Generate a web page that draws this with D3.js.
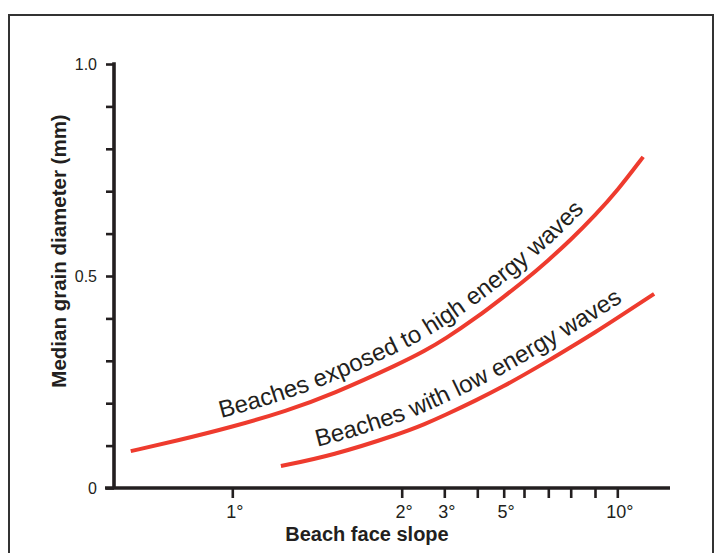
<!DOCTYPE html>
<html>
<head>
<meta charset="utf-8">
<script src="https://cdnjs.cloudflare.com/ajax/libs/d3/7.8.5/d3.min.js"></script>
<style>
body { margin: 0; background: #fff; }
svg { display: block; }
text { font-family: "Liberation Sans", Arial, Helvetica, sans-serif; fill: #231f20; }
</style>
</head>
<body>
<div id="grafica"></div>
<script>
// datos
var slopeTicks = [1, 2, 3, 4, 5, 6, 7, 8, 9, 10];
var slopeLabels = ["1°", "2°", "3°", "", "5°", "", "", "", "", "10°"];
var grainTicks = [0, 0.1, 0.2, 0.3, 0.4, 0.5, 0.6, 0.7, 0.8, 0.9, 1.0];
var grainLabels = ["0", "", "", "", "", "0.5", "", "", "", "", "1.0"];

var highSlope = [0.66, 0.8, 1, 1.25, 1.5, 2, 2.5, 3, 4, 5, 6, 7, 8, 9, 10, 11.3];
var highGrain = [0.087, 0.112, 0.144, 0.182, 0.220, 0.295, 0.324, 0.350, 0.403, 0.451, 0.488, 0.537, 0.585, 0.643, 0.701, 0.781];
var lowSlope = [1.22, 1.5, 2, 2.5, 3, 4, 5, 6, 7, 8, 9, 10, 11.9];
var lowGrain = [0.052, 0.076, 0.129, 0.151, 0.171, 0.208, 0.240, 0.267, 0.300, 0.332, 0.367, 0.401, 0.458];

var curveNames = ["Beaches exposed to high energy waves", "Beaches with low energy waves"];

var rojo = "#ee3b2e";
var tinta = "#231f20";

var svg = d3.select("#grafica")
  .append("svg")
  .attr("width", 720)
  .attr("height", 553);

// marco
svg.append("rect")
  .attr("x", 9).attr("y", 15)
  .attr("width", 704).attr("height", 580)
  .attr("fill", "none")
  .attr("stroke", "#333")
  .attr("stroke-width", 2);

// eje x dibujado a mano en el original: escala log por tramos
var x = d3.scaleLog()
  .domain(slopeTicks)
  .range([232.3, 401.7, 444.3, 477.3, 503.7, 524, 548.3, 570.7, 595, 617.3]);
var y = d3.scaleLinear().domain([0, 1]).range([488, 64]);

var x0 = 114;

// eje y
var yAxis = d3.axisLeft(y)
  .tickValues(grainTicks)
  .tickSize(8)
  .tickSizeOuter(0)
  .tickFormat(function (d, i) { return grainLabels[i]; });
var gy = svg.append("g").attr("transform", "translate(" + x0 + ",0)").call(yAxis);
gy.select(".domain").remove();
gy.selectAll(".tick line").attr("stroke", tinta).attr("stroke-width", 2.6);
gy.selectAll(".tick text")
  .attr("x", -17)
  .attr("dy", "0.36em")
  .style("font-size", "16px")
  .attr("fill", tinta);

// eje x
var xAxis = d3.axisBottom(x)
  .tickValues(slopeTicks)
  .tickSize(10)
  .tickSizeOuter(0)
  .tickFormat(function (d, i) { return slopeLabels[i]; });
var gx = svg.append("g").attr("transform", "translate(0," + y(0) + ")").call(xAxis);
gx.select(".domain").remove();
gx.selectAll(".tick line").attr("stroke", tinta).attr("stroke-width", 2.6);
gx.selectAll(".tick text")
  .attr("y", 17)
  .attr("dy", "0.71em")
  .attr("dx", 2)
  .style("font-size", "18px")
  .attr("fill", tinta);

// lineas de ejes
svg.append("line")
  .attr("x1", x0).attr("x2", x0)
  .attr("y1", y(1) - 1.8).attr("y2", y(0))
  .attr("stroke", tinta).attr("stroke-width", 3.6);
svg.append("line")
  .attr("x1", 105).attr("x2", 670)
  .attr("y1", y(0)).attr("y2", y(0))
  .attr("stroke", tinta).attr("stroke-width", 3.6);

// titulos
svg.append("text")
  .attr("x", 367).attr("y", 541)
  .attr("text-anchor", "middle")
  .style("font-size", "20px")
  .style("font-weight", "bold")
  .text("Beach face slope");
svg.append("text")
  .attr("transform", "translate(66,251) rotate(-90)")
  .attr("text-anchor", "middle")
  .style("font-size", "20.5px")
  .style("font-weight", "bold")
  .text("Median grain diameter (mm)");

// curvas
var linea = d3.line()
  .x(function (d) { return x(d[0]); })
  .y(function (d) { return y(d[1]); })
  .curve(d3.curveBasis);

var series = [
  { name: curveNames[0], pts: d3.zip(highSlope, highGrain), startX: 223 },
  { name: curveNames[1], pts: d3.zip(lowSlope, lowGrain), startX: 318 }
];

var defs = svg.append("defs");

series.forEach(function (s, k) {
  var p = svg.append("path")
    .attr("d", linea(s.pts))
    .attr("fill", "none")
    .attr("stroke", rojo)
    .attr("stroke-width", 4);

  // camino paralelo para el texto
  var node = p.node(), L = node.getTotalLength(), off = 11, pts = [];
  for (var t = 0; t <= L; t += 2) {
    var a = node.getPointAtLength(Math.max(0, t - 2));
    var b = node.getPointAtLength(Math.min(L, t + 2));
    var c = node.getPointAtLength(t);
    var dx = b.x - a.x, dy = b.y - a.y, n = Math.hypot(dx, dy);
    pts.push([c.x + dy / n * off, c.y - dx / n * off]);
  }
  var start = 0;
  for (var i = 1; i < pts.length && pts[i][0] < s.startX; i++) {
    start += Math.hypot(pts[i][0] - pts[i - 1][0], pts[i][1] - pts[i - 1][1]);
  }
  defs.append("path")
    .attr("id", "guia" + k)
    .attr("d", d3.line().curve(d3.curveBasis)(pts));

  svg.append("text")
    .style("font-size", "24px")
    .append("textPath")
    .attr("href", "#guia" + k)
    .attr("startOffset", start)
    .text(s.name);
});
</script>
</body>
</html>
